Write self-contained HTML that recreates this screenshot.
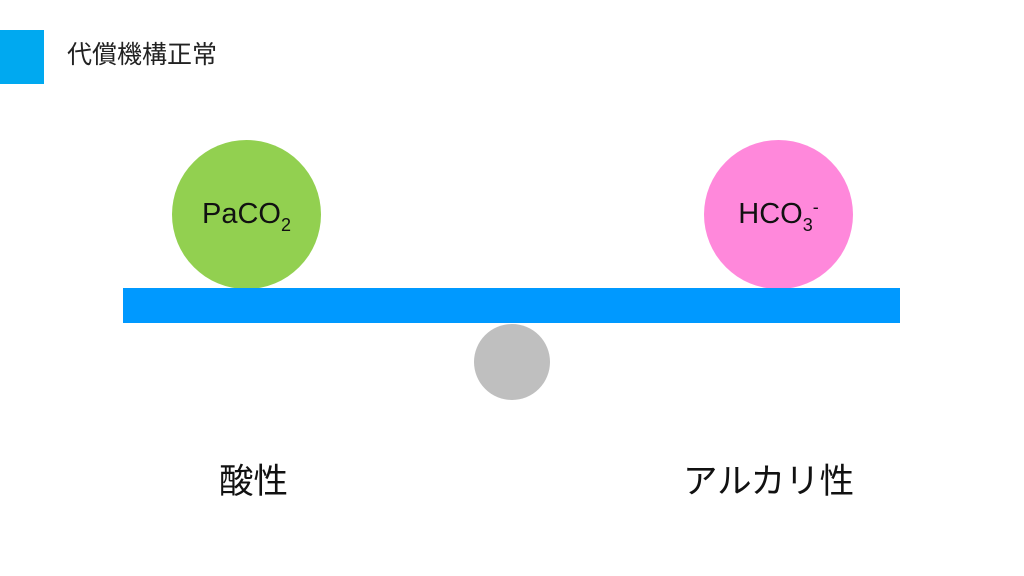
<!DOCTYPE html>
<html><head><meta charset="utf-8"><style>
body{margin:0;width:1024px;height:576px;background:#fff;position:relative;overflow:hidden;font-family:"Liberation Sans","Noto Sans CJK JP",sans-serif;}
.a{position:absolute;}
.c{position:absolute;border-radius:50%;display:flex;align-items:center;justify-content:center;font-size:29px;color:#111;}
.s{font-size:18px;position:relative;}
</style></head><body>
<div class="a" style="left:0;top:30px;width:44px;height:54px;background:#00A9F0"></div>
<div class="a" style="left:67px;top:38px;font-size:25px;color:#222;line-height:34px">代償機構正常</div>
<div class="c" style="left:172px;top:140px;width:149px;height:149px;background:#92D050"><span>PaCO<span class="s" style="top:8px">2</span></span></div>
<div class="c" style="left:704px;top:140px;width:149px;height:149px;background:#FF88DB"><span>HCO<span class="s" style="top:8px">3</span><span class="s" style="top:-10px">-</span></span></div>
<div class="a" style="left:123px;top:288px;width:777px;height:35px;background:#0099FF"></div>
<div class="a" style="left:474px;top:324px;width:76px;height:76px;border-radius:50%;background:#BFBFBF"></div>
<div class="a" style="left:219px;top:460px;font-size:34.5px;color:#111;line-height:44px">酸性</div>
<div class="a" style="left:683px;top:460px;font-size:34.5px;color:#111;line-height:44px">アルカリ性</div>
</body></html>
